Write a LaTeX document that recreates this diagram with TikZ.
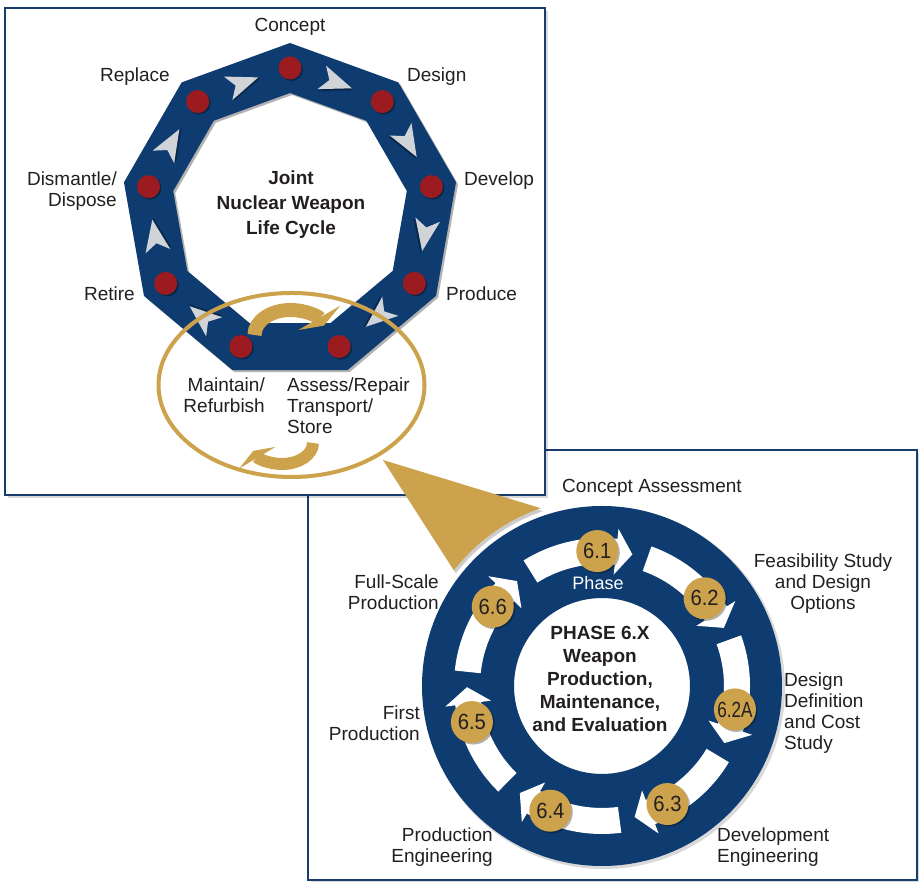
\documentclass[tikz,border=0pt]{standalone}
\usepackage{fontspec}
\usepackage{graphicx}
\setmainfont{Liberation Sans}
\usetikzlibrary{arrows.meta}
\definecolor{navy}{RGB}{14,60,112}
\definecolor{framec}{RGB}{24,60,108}
\definecolor{dotred}{RGB}{155,27,32}
\definecolor{gold}{RGB}{204,163,76}
\definecolor{arrgray}{RGB}{208,211,216}
\definecolor{txt}{RGB}{35,31,32}
\begin{document}
\begin{tikzpicture}[x=1pt,y=1pt,
  lbl/.style={text=txt, font=\fontsize{19}{21}\selectfont, inner sep=0pt},
  boldlbl/.style={text=txt, font=\fontsize{19}{25}\selectfont\bfseries, inner sep=0pt, align=center},
  boxframe/.style={draw=framec, line width=2.5, fill=white},
  boxshadow/.style={fill=black, opacity=0.15},
  goldc/.style={circle, fill=gold, minimum size=42, inner sep=0pt, text=txt},
  grayhead/.style={fill=arrgray},
  ringfill/.style={fill=navy, even odd rule}
]
\useasboundingbox (0,0) rectangle (919,882);

% ---------- boxes ----------
\fill[boxshadow] (311,-1) rectangle (920,429);
\draw[boxframe] (308,2) rectangle (917,432);
\fill[boxshadow] (8,384) rectangle (548,871);
\draw[boxframe] (5,387) rectangle (545,874);

% ---------- nonagon life cycle ----------
\begin{scope}[shift={(290,670.4)}]
  \fill[black, opacity=0.3, even odd rule, shift={(2,-2)}]
    (90:168.6) \foreach \a in {130,170,...,410}{ -- (\a:168.6)} -- cycle
    (90:118.6) \foreach \a in {130,170,...,410}{ -- (\a:118.6)} -- cycle;
  \fill[ringfill]
    (90:168.6) \foreach \a in {130,170,...,410}{ -- (\a:168.6)} -- cycle
    (90:118.6) \foreach \a in {130,170,...,410}{ -- (\a:118.6)} -- cycle;
  % gray arrowheads (clockwise)
  \foreach \a in {70,30,-10,-50,-130,-170,-210,-250}{
    \pgfmathsetmacro\r{\a-90}
    \fill[black, opacity=0.35, shift={(\a:137)}, rotate=\r, shift={(1.5,-1.5)}]
      (16,0) -- (-16,12.5) -- (-8,0) -- (-16,-12.5) -- cycle;
    \fill[grayhead, shift={(\a:137)}, rotate=\r]
      (16,0) -- (-16,12.5) -- (-8,0) -- (-16,-12.5) -- cycle;
  }
  % red dots
  \foreach \a in {90,50,...,-230}{
    \fill[black, opacity=0.35] ([shift={(1.5,-1.5)}]\a:143.6) circle[radius=11.5];
    \fill[dotred] (\a:143.6) circle[radius=11.5];
  }
\end{scope}

% gold arrows in the ellipse
\draw[gold, line width=14, -{Triangle[width=48pt,length=9pt]}]
  (254.5,547) arc[start angle=180, end angle=22, x radius=36, y radius=25];
\draw[gold, line width=12, -{Triangle[width=42pt,length=8pt]}]
  (313,439) arc[start angle=0, end angle=-158, x radius=31, y radius=21];
\draw[gold, line width=4] (291.5,497) ellipse[x radius=133, y radius=92];

% ---------- top-left labels ----------
\node[lbl] (concept) at (290,855) {Concept};
\node[lbl, anchor=west] (design) at (407,805) {Design};
\node[lbl, anchor=west] (develop) at (464,701) {Develop};
\node[lbl, anchor=west] (produce) at (446,588) {Produce};
\node[lbl, anchor=east] (replace) at (170,805) {Replace};
\node[lbl, anchor=east, align=right] (dismantle) at (117,691) {Dismantle/\\Dispose};
\node[lbl, anchor=east] (retire) at (135,588) {Retire};
\node[lbl, anchor=east, align=right] (maintain) at (265,487) {Maintain/\\Refurbish};
\node[lbl, anchor=west, align=left] (assess) at (287,476) {Assess/Repair\\Transport/\\Store};
\node[boldlbl] (jnw) at (291,677) {Joint\\Nuclear Weapon\\Life Cycle};

% ---------- callout wedge ----------
\fill[black, opacity=0.2, shift={(2,-3)}] (383,422) -- ([shift={(602,196)}]109:188)
  arc[start angle=109, end angle=142, radius=188] -- cycle;
\fill[gold] (383,422) -- ([shift={(602,196)}]109:188)
  arc[start angle=109, end angle=142, radius=188] -- cycle;

% ---------- phase 6.X ring ----------
\begin{scope}[shift={(602,196)}]
  \fill[black, opacity=0.15, even odd rule] (2,-2) circle[radius=181] (0,0) circle[radius=88];
  \fill[ringfill] (0,0) circle[radius=180] (0,0) circle[radius=88];
  \foreach \a in {92,40.5,-10,-61,-112.5,-164.5,144}{
    \pgfmathsetmacro\ta{\a+30}
    \pgfmathsetmacro\hb{\a-8}
    \pgfmathsetmacro\tp{\a-15}
    \fill[white] (\ta:148) arc[start angle=\ta, end angle=\hb, radius=148]
      -- (\hb:158) -- (\tp:135) -- (\hb:112) -- (\hb:122)
      arc[start angle=\hb, end angle=\ta, radius=122] -- cycle;
  }
  \foreach \a/\lab/\sx/\nm in {92/6.1/0.92/a,40.5/6.2/0.92/b,-10/6.2A/0.78/c,-61/6.3/0.92/d,-112.5/6.4/0.92/e,-164.5/6.5/0.92/f,144/6.6/0.92/g}{
    \fill[black, opacity=0.3] ([shift={(1.5,-1.5)}]\a:135) circle[radius=21];
    \node[goldc, font=\fontsize{22}{22}\selectfont] (ph\nm) at (\a:135) {\scalebox{\sx}[1]{\lab}};
  }
\end{scope}
\node[text=white, font=\fontsize{18}{18}\selectfont, inner sep=0pt] (phase) at (598,299) {Phase};
\node[boldlbl, font=\fontsize{19}{23}\selectfont\bfseries] (phx) at (600,203.5)
  {PHASE 6.X\\Weapon\\Production,\\Maintenance,\\and Evaluation};

% ---------- bottom-right labels ----------
\node[lbl] (ca) at (652,394) {Concept Assessment};
\node[lbl, align=center] (feas) at (823,298) {Feasibility Study\\and Design\\Options};
\node[lbl, anchor=west, align=left] (ddef) at (784,168.5) {Design\\Definition\\and Cost\\Study};
\node[lbl, anchor=west, align=left] (deveng) at (717,34.5) {Development\\Engineering};
\node[lbl, anchor=east, align=right] (prodeng) at (493,34.5) {Production\\Engineering};
\node[lbl, anchor=east, align=right] (firstp) at (420,159) {First\\Production};
\node[lbl, anchor=east, align=right] (fullp) at (439,289.5) {Full-Scale\\Production};
\end{tikzpicture}
\end{document}
